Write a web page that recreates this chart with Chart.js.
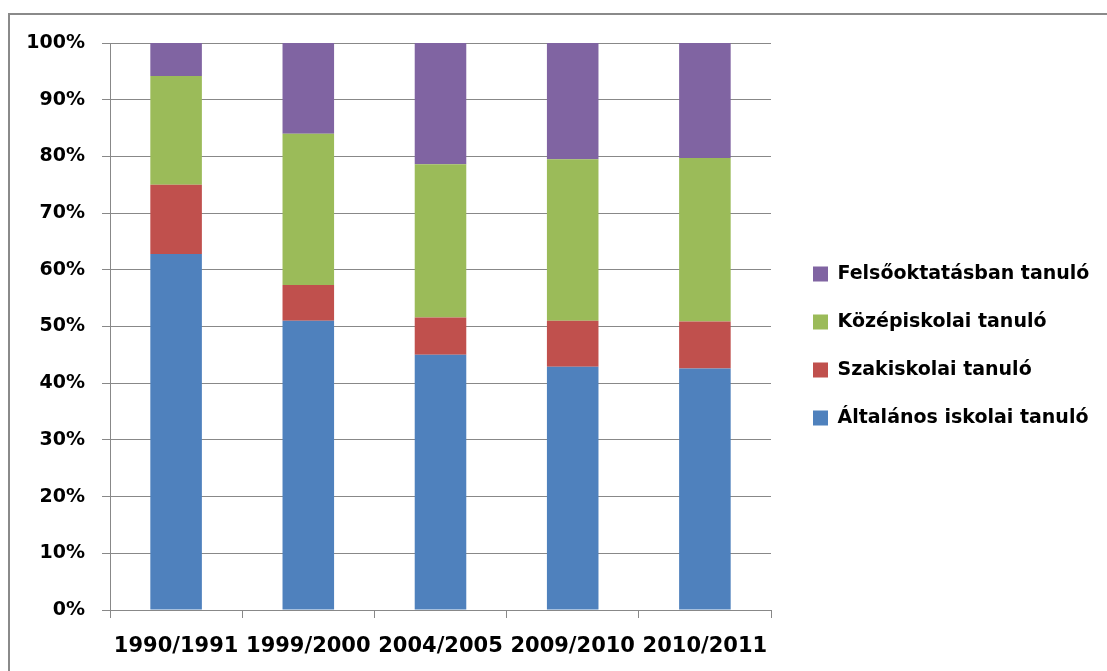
<!DOCTYPE html>
<html>
<head>
<meta charset="utf-8">
<script src="https://cdn.jsdelivr.net/npm/chart.js@4.4.1/dist/chart.umd.min.js"></script>
<style>
  html, body { margin: 0; padding: 0; background: #fff; }
  #wrap { position: relative; width: 1107px; height: 671px; overflow: hidden; }
  #frame { position: absolute; left: 8px; top: 13px; width: 1200px; height: 800px;
           border-left: 2px solid #8a8a8a; border-top: 2px solid #8a8a8a; box-sizing: border-box; }
  canvas { position: absolute; left: 0; top: 0; }
</style>
</head>
<body>
<div id="wrap">
  <div id="frame"></div>
  <canvas id="c" width="1107" height="671"></canvas>
</div>
<script>
const categories = ['1990/1991', '1999/2000', '2004/2005', '2009/2010', '2010/2011'];
const seriesNames = ['Általános iskolai tanuló', 'Szakiskolai tanuló', 'Középiskolai tanuló', 'Felsőoktatásban tanuló'];
const altalanos = [62.8, 51.0, 45.0, 42.9, 42.6];
const szakiskolai = [12.2, 6.3, 6.6, 8.1, 8.3];
const kozepiskolai = [19.2, 26.7, 27.0, 28.5, 28.8];
const felsooktatas = [5.8, 16.0, 21.4, 20.5, 20.3];
const colors = ['#4F81BD', '#C0504D', '#9BBB59', '#8064A2'];

const FAMILY = "'DejaVu Sans'";
const LEGEND_SIZE = 19;
const LEGEND_PAD = 29;
const BOX = 15;

// measure longest legend label to place the legend
const mctx = document.createElement('canvas').getContext('2d');
mctx.font = 'bold ' + LEGEND_SIZE + 'px ' + FAMILY;
let maxW = 0;
seriesNames.forEach(n => { maxW = Math.max(maxW, mctx.measureText(n).width); });
const legendLeft = 784;
const legendW = LEGEND_PAD + BOX + LEGEND_SIZE / 2 + maxW + 10;
const padRight = Math.max(0, 1107 - legendLeft - legendW);

const allSeries = [altalanos, szakiskolai, kozepiskolai, felsooktatas];
const datasets = allSeries.map((d, i) => ({
  label: seriesNames[i],
  data: d,
  backgroundColor: colors[i],
  borderWidth: 0,
  barPercentage: 0.39,
  categoryPercentage: 1.0
}));

new Chart(document.getElementById('c'), {
  type: 'bar',
  data: { labels: categories, datasets: datasets },
  options: {
    responsive: false,
    animation: false,
    layout: { padding: { left: 10, top: 43, bottom: 22, right: padRight } },
    plugins: {
      tooltip: { enabled: false },
      legend: {
        position: 'right',
        reverse: true,
        maxWidth: 500,
        labels: {
          boxWidth: BOX, boxHeight: BOX, padding: LEGEND_PAD, color: '#000',
          font: { family: FAMILY, size: LEGEND_SIZE, weight: 'bold' }
        }
      }
    },
    scales: {
      x: {
        stacked: true,
        offset: true,
        grid: { drawOnChartArea: false, drawTicks: true, tickLength: 8, color: '#888', offset: true },
        border: { display: true, color: '#888' },
        ticks: { color: '#000', padding: 16, maxRotation: 0, font: { family: FAMILY, size: 21, weight: 'bold' } },
        afterFit: s => { s.height = 39; },
        afterUpdate: s => { s._computeLabelArea = () => undefined; }
      },
      y: {
        stacked: true,
        min: 0, max: 100,
        ticks: { stepSize: 10, color: '#000', padding: 17, callback: v => v + '%',
                 font: { family: FAMILY, size: 19, weight: 'bold' } },
        grid: { color: '#888', tickLength: 8, lineWidth: 1 },
        border: { display: true, color: '#888' },
        afterFit: s => { s.width = 100; }
      },
      gap: {
        position: 'right',
        display: true,
        grid: { display: false, drawTicks: false },
        border: { display: false },
        ticks: { display: false },
        afterFit: s => { s.width = 13; }
      }
    }
  }
});
</script>
</body>
</html>
